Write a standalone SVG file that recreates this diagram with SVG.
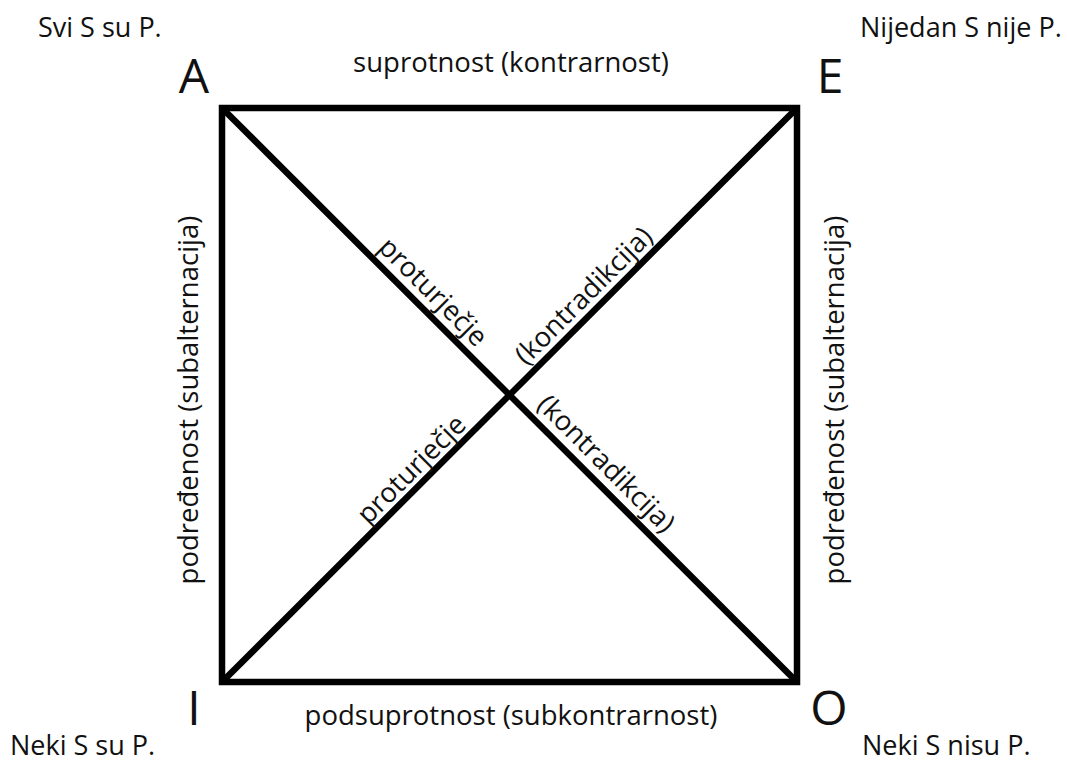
<svg xmlns="http://www.w3.org/2000/svg" width="1067" height="762" viewBox="0 0 1067 762">
<style>
text{font-family:"Open Sans","Noto Sans","DejaVu Sans",sans-serif;fill:#111}
.s{font-size:27px}
.l{font-size:27.5px}
.big{font-size:48px}
.ln{stroke:#000;stroke-width:6.5;fill:none;stroke-linejoin:miter}
</style>
<rect width="1067" height="762" fill="#fff"/>
<g id="connectors">
<rect class="ln" x="222" y="108" width="575" height="574"/>
<line class="ln" x1="222" y1="108" x2="797" y2="682"/>
<line class="ln" x1="222" y1="682" x2="797" y2="108"/>
</g>
<g id="node-A">
<text class="big" x="194" y="93" text-anchor="middle">A</text>
<text class="s" x="38" y="37">Svi S su P.</text>
</g>
<g id="node-E">
<text class="big" x="830" y="93" text-anchor="middle">E</text>
<text class="s" x="860" y="37">Nijedan S nije P.</text>
</g>
<g id="node-I">
<text class="big" x="194" y="725" text-anchor="middle">I</text>
<text class="s" x="10" y="755">Neki S su P.</text>
</g>
<g id="node-O">
<text class="big" x="829" y="725" text-anchor="middle">O</text>
<text class="s" x="862" y="755">Neki S nisu P.</text>
</g>
<g id="labels">
<text class="l" x="511" y="72" text-anchor="middle">suprotnost (kontrarnost)</text>
<text class="l" x="511" y="725" text-anchor="middle">podsuprotnost (subkontrarnost)</text>
<text class="l" text-anchor="middle" transform="translate(198,400) rotate(-90)">podređenost (subalternacija)</text>
<text class="l" text-anchor="middle" transform="translate(844,400) rotate(-90)">podređenost (subalternacija)</text>
<text class="l" text-anchor="middle" transform="translate(419.5,305.5) rotate(45)" y="-10">proturječje</text>
<text class="l" text-anchor="middle" transform="translate(598,310) rotate(-45)" y="-11">(kontradikcija)</text>
<text class="l" text-anchor="middle" transform="translate(425,483) rotate(-45)" y="-10">proturječje</text>
<text class="l" text-anchor="middle" transform="translate(592,478) rotate(45)" y="-11">(kontradikcija)</text>
</g>
</svg>
